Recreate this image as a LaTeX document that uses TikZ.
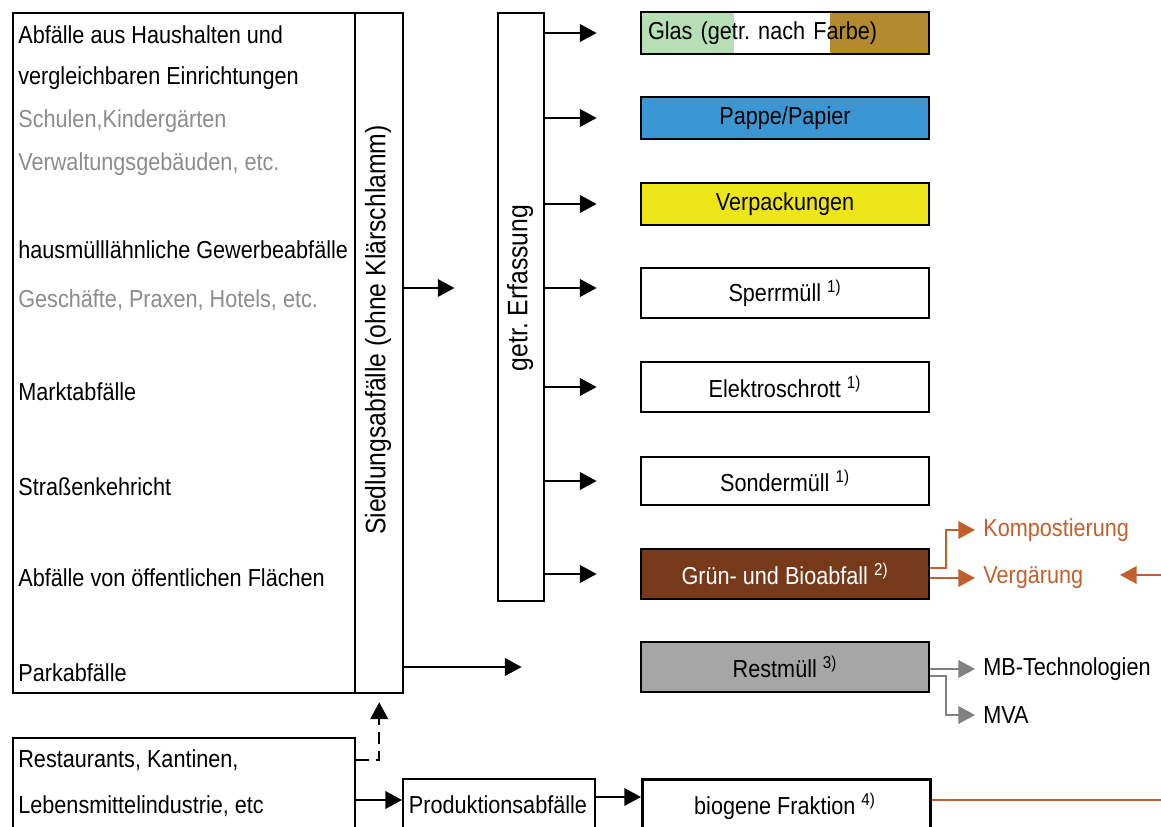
\documentclass[tikz,border=0pt]{standalone}
\usepackage{fontspec}
\setmainfont{Liberation Sans}[FakeStretch=0.88]
\usepackage{xcolor}
\usetikzlibrary{arrows.meta, positioning, calc, backgrounds}

\definecolor{glasgruen}{HTML}{B7DFB5}
\definecolor{glasbraun}{HTML}{B38A2E}
\definecolor{papierblau}{HTML}{3B97D3}
\definecolor{verpgelb}{HTML}{ECE619}
\definecolor{biobraun}{HTML}{763A1A}
\definecolor{restgrau}{HTML}{A6A6A6}
\definecolor{hinweisgrau}{HTML}{8C8C8C}
\definecolor{pfeilgrau}{HTML}{808080}
\definecolor{bioorange}{HTML}{C0602D}

\begin{document}
\begin{tikzpicture}[x=0.02cm, y=-0.02cm, >={Triangle[length=9.5pt,width=10pt]},
    every node/.style={font=\fontsize{14}{16}\selectfont},
    kasten/.style={draw, line width=1.6pt, inner sep=0pt, minimum width=5.76cm},
    zeile/.style={anchor=west, inner sep=0pt},
    grau/.style={text=hinweisgrau},
    senkrecht/.style={rotate=90, font=\fontsize{16}{18}\selectfont},
    pfeil/.style={->, line width=1.1pt},
    orpfeil/.style={->, line width=1.1pt, draw=bioorange, color=bioorange},
    grpfeil/.style={->, line width=1.1pt, draw=pfeilgrau, color=pfeilgrau},
    ziel/.style={anchor=west, inner xsep=0.16cm}]
    \useasboundingbox (0,0) rectangle (1161,827);

    % Herkunft
    \node[draw, line width=1.4pt, anchor=north west, minimum width=6.84cm, minimum height=13.6cm] (herkunft) at (12,12) {};
    \node[draw, line width=1.4pt, anchor=north west, minimum width=0.96cm, minimum height=13.6cm] (siedlung) at (354,12) {};
    \node[senkrecht] (siedltext) at (378,330) {Siedlungsabfälle (ohne Klärschlamm)};

    \node[zeile] (haushalt1) at (18,35) {Abfälle aus Haushalten und};
    \node[zeile] (haushalt2) at (18,78) {vergleichbaren Einrichtungen};
    \node[zeile, grau] (haushalt3) at (18,121) {Schulen,Kindergärten};
    \node[zeile, grau] (haushalt4) at (18,164) {Verwaltungsgebäuden, etc.};
    \node[zeile] (gewerbe1) at (18,250) {hausmülllähnliche Gewerbeabfälle};
    \node[zeile, grau] (gewerbe2) at (18,300) {Geschäfte, Praxen, Hotels, etc.};
    \node[zeile] (markt) at (18,392) {Marktabfälle};
    \node[zeile] (strasse) at (18,487) {Straßenkehricht};
    \node[zeile] (flaechen) at (18,578) {Abfälle von öffentlichen Flächen};
    \node[zeile] (park) at (18,673) {Parkabfälle};

    % getrennte Erfassung
    \node[draw, line width=1.4pt, anchor=north west, minimum width=0.92cm, minimum height=11.76cm] (erfassung) at (497,12) {};
    \node[senkrecht] (erfasstext) at (520,288) {getr.\ Erfassung};

    \node[kasten, minimum height=0.84cm, text width=5.48cm, inner xsep=0.14cm, align=left] (glas) at (785,33) {Glas (getr.\ nach Farbe)};
    \begin{scope}[on background layer]
      \fill[glasgruen] (glas.south west) rectangle ([xshift=1.88cm]glas.north west);
      \fill[glasbraun] ([xshift=3.8cm]glas.south west) rectangle (glas.north east);
    \end{scope}
    \node[kasten, minimum height=0.84cm, fill=papierblau] (papier) at (785,118) {Pappe/Papier};
    \node[kasten, minimum height=0.84cm, fill=verpgelb] (verpackung) at (785,204) {Verpackungen};
    \node[kasten, minimum height=1.0cm] (sperr) at (785,293) {Sperrmüll \textsuperscript{1)}};
    \node[kasten, minimum height=1.0cm] (elektro) at (785,387) {Elektroschrott \textsuperscript{1)}};
    \node[kasten, minimum height=0.96cm] (sonder) at (785,481) {Sondermüll \textsuperscript{1)}};
    \node[kasten, minimum height=1.0cm, fill=biobraun, text=white] (bio) at (785,574) {Grün- und Bioabfall \textsuperscript{2)}};
    \node[kasten, minimum height=1.0cm, fill=restgrau] (rest) at (785,667) {Restmüll \textsuperscript{3)}};

    \draw[pfeil] (siedlung.east |- erfasstext) -- ++(50,0);
    \draw[pfeil] (erfassung.east |- glas) -- ([xshift=-0.86cm]glas.west);
    \draw[pfeil] (erfassung.east |- papier) -- ([xshift=-0.86cm]papier.west);
    \draw[pfeil] (erfassung.east |- verpackung) -- ([xshift=-0.86cm]verpackung.west);
    \draw[pfeil] (erfassung.east |- erfasstext) -- ([xshift=-0.86cm]erfasstext -| sperr.west);
    \draw[pfeil] (erfassung.east |- elektro) -- ([xshift=-0.86cm]elektro.west);
    \draw[pfeil] (erfassung.east |- sonder) -- ([xshift=-0.86cm]sonder.west);
    \draw[pfeil] (erfassung.east |- bio) -- ([xshift=-0.86cm]bio.west);
    \draw[pfeil] (siedlung.east |- rest) -- ([xshift=-2.36cm]rest.west);

    % Verwertung
    \node[ziel, text=bioorange] (kompost) at (975,530) {Kompostierung};
    \node[ziel, text=bioorange] (vergaerung) at (975,578) {Vergärung};
    \node[ziel] (mbt) at (975,669) {MB-Technologien};
    \node[ziel] (mva) at (975,715) {MVA};

    \draw[orpfeil] ([yshift=0.12cm]bio.east) -- ++(16,0) |- (kompost.west);
    \draw[orpfeil] (bio.east |- vergaerung) -- (vergaerung.west);
    \coordinate (randoben) at (1161,575);
    \draw[orpfeil] (randoben) -- ++(-41,0);
    \draw[grpfeil] (rest.east |- mbt) -- (mbt.west);
    \draw[grpfeil] ([yshift=-0.18cm]rest.east) -- ++(16,0) |- (mva.west);

    % Gewerbe / Industrie
    \node[draw, line width=1.4pt, anchor=north west, minimum width=6.84cm, minimum height=2.2cm] (gastro) at (12,737) {};
    \node[zeile] (gastro1) at (18,760) {Restaurants, Kantinen,};
    \node[zeile] (gastro2) at (18,806) {Lebensmittelindustrie, etc};
    \node[draw, line width=1.4pt, anchor=north west, minimum width=3.84cm, minimum height=1.3cm, inner sep=0pt] (produktion) at (402,778) {};
    \node (prodtext) at (498,805) {Produktionsabfälle};
    \node[draw, line width=1.6pt, anchor=north west, minimum width=5.76cm, minimum height=1.3cm, inner sep=0pt] (biogen) at (641,778) {};
    \node (biogentext) at (785,806) {biogene Fraktion \textsuperscript{4)}};

    \draw[pfeil, dash pattern=on 7pt off 4pt] ([yshift=0.66cm]gastro.east) -| ([yshift=-0.16cm]siedlung.south);
    \draw[pfeil] (gastro.east |- 0,800) -- (produktion.west |- 0,800);
    \draw[pfeil] (produktion.east |- 0,797) -- (biogen.west |- 0,797);
    \coordinate (randunten) at (1161,800);
    \draw[line width=1.1pt, bioorange] (biogen.east |- randunten) -- (randunten);

  \end{tikzpicture}
\end{document}
